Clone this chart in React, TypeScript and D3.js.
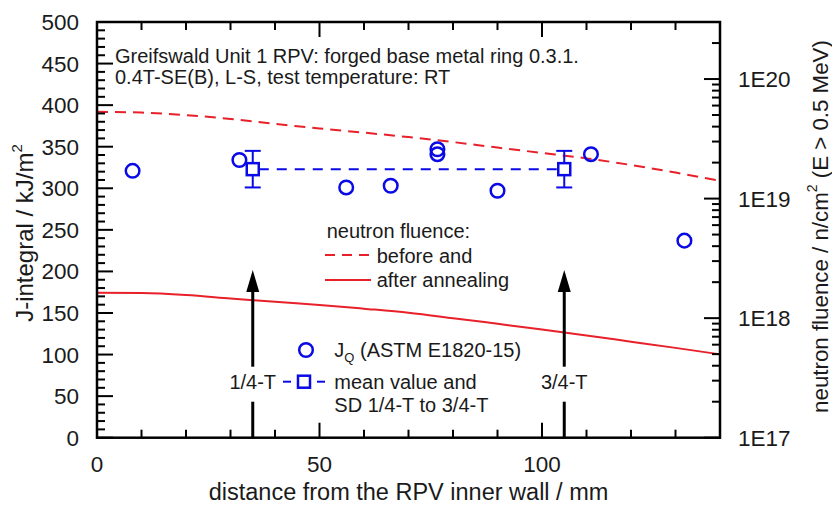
import React from "react";
import * as d3 from "d3";

// ---- data ----
const distances = [0, 10, 20, 30, 40, 50, 60, 70, 80, 90, 100, 110, 120, 130, 140];
const fluenceBefore = [5.32e19, 5.24e19, 4.99e19, 4.64e19, 4.22e19, 3.86e19, 3.56e19, 3.27e19, 2.97e19, 2.67e19, 2.41e19, 2.17e19, 1.91e19, 1.65e19, 1.41e19];
const fluenceAfter = [1.63e18, 1.62e18, 1.56e18, 1.46e18, 1.37e18, 1.29e18, 1.2e18, 1.11e18, 1.0e18, 8.97e17, 8.04e17, 7.17e17, 6.36e17, 5.64e17, 4.98e17];
const jqX = [8, 32, 56, 66, 76.5, 76.5, 90, 111, 132];
const jqY = [321, 334, 301, 303, 347, 341, 297, 341, 237];
const meanX = [35, 105];
const meanJ = 323;
const sdJ = 22;
const arrowX = [35, 105];
const arrowLabels = ["1/4-T", "3/4-T"];
const xTicks = [0, 50, 100];
const yTicks = [0, 50, 100, 150, 200, 250, 300, 350, 400, 450, 500];
const rTicks = [1e17, 1e18, 1e19, 1e20];
const rTickLabels = ["1E17", "1E18", "1E19", "1E20"];

const W = 832;
const H = 506;
const L = 97, R = 720, T = 22, B = 437.7;
const FONT = "'Liberation Sans', Arial, Helvetica, sans-serif";
const TXT = "#1a1a1a";
const BLUE = "#0a0ae6";
const RED = "#e8202a";

export default function App() {
  const x = d3.scaleLinear().domain([0, 140]).range([L, R]);
  const y = d3.scaleLinear().domain([0, 500]).range([B, T]);
  const yR = d3.scaleLog().domain([1e17, 3e20]).range([B, T]);

  const lineBefore = d3
    .line<number>()
    .x((_, i) => x(distances[i]))
    .y((d) => yR(d))
    .curve(d3.curveMonotoneX)(fluenceBefore) as string;
  const lineAfter = d3
    .line<number>()
    .x((_, i) => x(distances[i]))
    .y((d) => yR(d))
    .curve(d3.curveMonotoneX)(fluenceAfter) as string;

  const xMinor = d3.range(0, 141, 10);
  const yMinor = d3.range(0, 501, 10);
  const rMinor: number[] = [];
  for (let e = 17; e <= 20; e++) {
    for (let dd = 2; dd <= 9; dd++) {
      const v = dd * Math.pow(10, e);
      if (v <= 3.0001e20) rMinor.push(v);
    }
  }

  const tickStroke = { stroke: "#000", strokeWidth: 2 };
  const sq = 12;

  return (
    <svg
      width={W}
      height={H}
      style={{ position: "absolute", left: 0, top: 0, background: "#fff" }}
      fontFamily={FONT}
    >
      <rect x={0} y={0} width={W} height={H} fill="#fff" />

      {/* fluence curves */}
      <path d={lineBefore} fill="none" stroke={RED} strokeWidth={2} strokeDasharray="11,7" />
      <path d={lineAfter} fill="none" stroke={RED} strokeWidth={2} />

      {/* ticks */}
      {xMinor.map((v) => {
        const major = v % 50 === 0;
        const len = major ? 15 : 8;
        return (
          <g key={"xt" + v}>
            <line x1={x(v)} x2={x(v)} y1={B} y2={B - len} {...tickStroke} />
            <line x1={x(v)} x2={x(v)} y1={T} y2={T + len} {...tickStroke} />
          </g>
        );
      })}
      {yMinor.map((v) => {
        const major = v % 50 === 0;
        const len = major ? 16 : 8;
        return <line key={"yt" + v} x1={L} x2={L + len} y1={y(v)} y2={y(v)} {...tickStroke} />;
      })}
      {rTicks.map((v) => (
        <line key={"rM" + v} x1={R} x2={R - 16} y1={yR(v)} y2={yR(v)} {...tickStroke} />
      ))}
      {rMinor.map((v) => (
        <line key={"rm" + v} x1={R} x2={R - 8} y1={yR(v)} y2={yR(v)} {...tickStroke} />
      ))}

      {/* frame */}
      <rect x={L} y={T} width={R - L} height={B - T} fill="none" stroke="#000" strokeWidth={2.5} />

      {/* tick labels */}
      {xTicks.map((v) => (
        <text key={"xl" + v} x={x(v)} y={472} textAnchor="middle" fontSize={22.5} fill={TXT}>
          {v}
        </text>
      ))}
      {yTicks.map((v) => (
        <text key={"yl" + v} x={79} y={y(v) + 8} textAnchor="end" fontSize={22.5} fill={TXT}>
          {v}
        </text>
      ))}
      {rTicks.map((v, i) => (
        <text key={"rl" + v} x={738} y={yR(v) + 8} textAnchor="start" fontSize={22.5} fill={TXT}>
          {rTickLabels[i]}
        </text>
      ))}

      {/* axis titles */}
      <text x={408.5} y={500} textAnchor="middle" fontSize={23.5} fill={TXT}>
        distance from the RPV inner wall / mm
      </text>
      <text
        transform={`translate(33,${233}) rotate(-90)`}
        textAnchor="middle"
        fontSize={24}
        fill={TXT}
      >
        J-integral / kJ/m
        <tspan fontSize={15} dy={-11}>2</tspan>
      </text>
      <text
        transform={`translate(828,${226.5}) rotate(-90)`}
        textAnchor="middle"
        fontSize={22.3}
        fill={TXT}
      >
        neutron fluence / n/cm
        <tspan fontSize={14} dy={-11}>2</tspan>
        <tspan dy={11}> (E &gt; 0.5 MeV)</tspan>
      </text>

      {/* annotation */}
      <text x={115} y={63} fontSize={20} fill={TXT}>
        Greifswald Unit 1 RPV: forged base metal ring 0.3.1.
      </text>
      <text x={115} y={84} fontSize={20} fill={TXT}>
        0.4T-SE(B), L-S, test temperature: RT
      </text>

      {/* mean line + error bars */}
      <line
        x1={x(meanX[0]) + sq / 2}
        x2={x(meanX[1]) - sq / 2}
        y1={y(meanJ)}
        y2={y(meanJ)}
        stroke={BLUE}
        strokeWidth={2}
        strokeDasharray="10,8"
      />
      {meanX.map((mx) => (
        <g key={"m" + mx}>
          <line x1={x(mx)} x2={x(mx)} y1={y(meanJ + sdJ)} y2={y(meanJ) - sq / 2} stroke={BLUE} strokeWidth={2} />
          <line x1={x(mx)} x2={x(mx)} y1={y(meanJ - sdJ)} y2={y(meanJ) + sq / 2} stroke={BLUE} strokeWidth={2} />
          <line x1={x(mx) - 8} x2={x(mx) + 8} y1={y(meanJ + sdJ)} y2={y(meanJ + sdJ)} stroke={BLUE} strokeWidth={2} />
          <line x1={x(mx) - 8} x2={x(mx) + 8} y1={y(meanJ - sdJ)} y2={y(meanJ - sdJ)} stroke={BLUE} strokeWidth={2} />
          <rect x={x(mx) - sq / 2} y={y(meanJ) - sq / 2} width={sq} height={sq} fill="none" stroke={BLUE} strokeWidth={2.5} />
        </g>
      ))}

      {/* data circles */}
      {jqX.map((vx, i) => (
        <circle key={"c" + i} cx={x(vx)} cy={y(jqY[i])} r={6.8} fill="none" stroke={BLUE} strokeWidth={2.5} />
      ))}

      {/* arrows */}
      {arrowX.map((ax, i) => {
        const px = x(ax);
        return (
          <g key={"a" + ax}>
            <line x1={px} x2={px} y1={B} y2={401.7} stroke="#000" strokeWidth={3} />
            <line x1={px} x2={px} y1={366.7} y2={289} stroke="#000" strokeWidth={3} />
            <polygon points={`${px},270 ${px - 6.5},292 ${px + 6.5},292`} fill="#000" />
            <text x={px} y={389} textAnchor="middle" fontSize={20} fill={TXT}>
              {arrowLabels[i]}
            </text>
          </g>
        );
      })}

      {/* legend: fluence */}
      <text x={326.7} y={238} fontSize={20} fill={TXT}>neutron fluence:</text>
      <line x1={325} x2={371} y1={255} y2={255} stroke={RED} strokeWidth={2} strokeDasharray="10,7" />
      <text x={376.7} y={262.5} fontSize={20} fill={TXT}>before and</text>
      <line x1={325} x2={371} y1={280} y2={280} stroke={RED} strokeWidth={2} />
      <text x={376.7} y={287} fontSize={20} fill={TXT}>after annealing</text>

      {/* legend: data */}
      <circle cx={306} cy={350} r={6.8} fill="none" stroke={BLUE} strokeWidth={2.5} />
      <text x={334.3} y={356.7} fontSize={20} fill={TXT}>
        J<tspan fontSize={13} dy={5}>Q</tspan>
        <tspan dy={-5}> (ASTM E1820-15)</tspan>
      </text>
      <line x1={283} x2={291} y1={381.7} y2={381.7} stroke={BLUE} strokeWidth={2} />
      <line x1={317} x2={325} y1={381.7} y2={381.7} stroke={BLUE} strokeWidth={2} />
      <rect x={304 - sq / 2} y={381.7 - sq / 2} width={sq} height={sq} fill="none" stroke={BLUE} strokeWidth={2.5} />
      <text x={334.3} y={389} fontSize={20} fill={TXT}>mean value and</text>
      <text x={334.3} y={411.5} fontSize={20} fill={TXT}>SD 1/4-T to 3/4-T</text>
    </svg>
  );
}
